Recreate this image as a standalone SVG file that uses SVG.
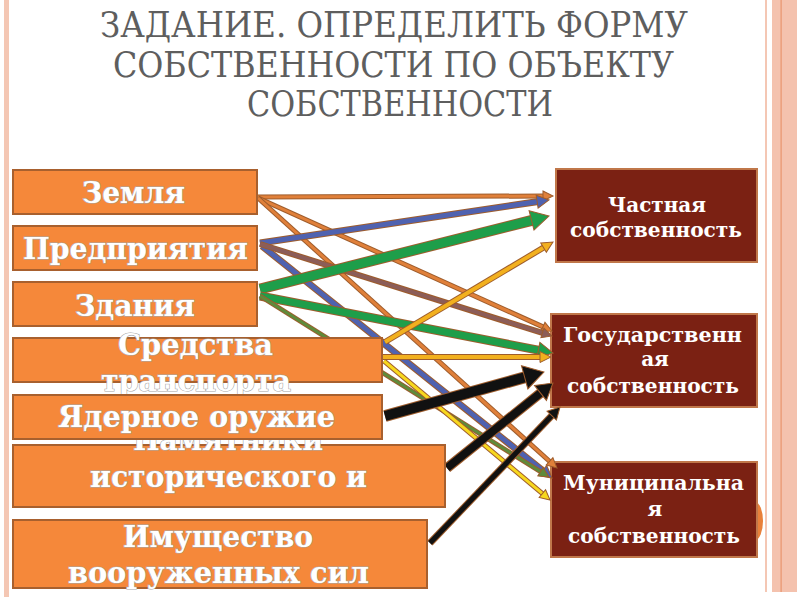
<svg xmlns="http://www.w3.org/2000/svg" width="800" height="600" viewBox="0 0 800 600">
<style>
.title{font-family:"DejaVu Serif Condensed","DejaVu Serif","Liberation Serif",serif;font-stretch:condensed;font-size:36px;fill:#5e5e5e;text-anchor:middle}
.lbox{fill:#F5883A;stroke:#A8602E;stroke-width:2}
.rbox{fill:#7B2113;stroke:#C0774A;stroke-width:2}
.lt{font-family:"DejaVu Serif",serif;font-weight:bold;font-size:29px;fill:#fff;text-anchor:middle;paint-order:stroke;stroke:#a8a8a8;stroke-width:1.2}
.rt{font-family:"DejaVu Serif",serif;font-weight:bold;font-size:20px;fill:#fff;text-anchor:middle}
.o{fill:none;stroke:#9E5C2C}
.c{fill:none}
</style>
<defs>
<marker id="h-orange" markerUnits="userSpaceOnUse" markerWidth="10" markerHeight="10" refX="2.5" refY="5" orient="auto" overflow="visible"><path d="M0,0 L10,5 L0,10 z" fill="#E0803A" stroke="#9E5C2C" stroke-width="1"/></marker>
<marker id="h-blue" markerUnits="userSpaceOnUse" markerWidth="12" markerHeight="13" refX="3" refY="6.5" orient="auto" overflow="visible"><path d="M0,0 L12,6.5 L0,13 z" fill="#4F62B0" stroke="#9E5C2C" stroke-width="1"/></marker>
<marker id="h-mauve" markerUnits="userSpaceOnUse" markerWidth="10" markerHeight="10" refX="2.5" refY="5" orient="auto" overflow="visible"><path d="M0,0 L10,5 L0,10 z" fill="#8C5D58" stroke="#9E5C2C" stroke-width="1"/></marker>
<marker id="h-green-l" markerUnits="userSpaceOnUse" markerWidth="18" markerHeight="20" refX="4.5" refY="10" orient="auto" overflow="visible"><path d="M0,0 L18,10 L0,20 z" fill="#1E9E4A" stroke="#9E5C2C" stroke-width="1"/></marker>
<marker id="h-green-m" markerUnits="userSpaceOnUse" markerWidth="15" markerHeight="16" refX="3.75" refY="8" orient="auto" overflow="visible"><path d="M0,0 L15,8 L0,16 z" fill="#1E9E4A" stroke="#9E5C2C" stroke-width="1"/></marker>
<marker id="h-olive" markerUnits="userSpaceOnUse" markerWidth="10" markerHeight="10" refX="2.5" refY="5" orient="auto" overflow="visible"><path d="M0,0 L10,5 L0,10 z" fill="#5F8B3B" stroke="#9E5C2C" stroke-width="1"/></marker>
<marker id="h-gold" markerUnits="userSpaceOnUse" markerWidth="11" markerHeight="11" refX="2.75" refY="5.5" orient="auto" overflow="visible"><path d="M0,0 L11,5.5 L0,11 z" fill="#F2B01E" stroke="#9E5C2C" stroke-width="1"/></marker>
<marker id="h-yellow" markerUnits="userSpaceOnUse" markerWidth="10" markerHeight="10" refX="2.5" refY="5" orient="auto" overflow="visible"><path d="M0,0 L10,5 L0,10 z" fill="#F7D81E" stroke="#9E5C2C" stroke-width="1"/></marker>
<marker id="h-black-l" markerUnits="userSpaceOnUse" markerWidth="20" markerHeight="24" refX="5" refY="12" orient="auto" overflow="visible"><path d="M0,0 L20,12 L0,24 z" fill="#111" stroke="#9E5C2C" stroke-width="1"/></marker>
<marker id="h-black-m" markerUnits="userSpaceOnUse" markerWidth="16" markerHeight="19" refX="4" refY="9.5" orient="auto" overflow="visible"><path d="M0,0 L16,9.5 L0,19 z" fill="#111" stroke="#9E5C2C" stroke-width="1"/></marker>
<marker id="h-black-s" markerUnits="userSpaceOnUse" markerWidth="12" markerHeight="13" refX="3" refY="6.5" orient="auto" overflow="visible"><path d="M0,0 L12,6.5 L0,13 z" fill="#111" stroke="#9E5C2C" stroke-width="1"/></marker>
</defs>
<rect x="0" y="0" width="800" height="600" fill="#fff"/>
<g id="frame">
<rect x="4" y="0" width="5" height="597" fill="#F4C7B4"/>
<rect x="765" y="0" width="2" height="592" fill="#F4C7B4"/>
<rect x="772" y="0" width="25" height="592" fill="#F4C2AE"/>
<rect x="780.5" y="0" width="1.2" height="592" fill="#E8956E"/>
</g>
<g id="title">
<text class="title" x="394" y="37" textLength="588" lengthAdjust="spacingAndGlyphs">ЗАДАНИЕ. ОПРЕДЕЛИТЬ ФОРМУ</text>
<text class="title" x="393.5" y="77" textLength="561" lengthAdjust="spacingAndGlyphs">СОБСТВЕННОСТИ ПО ОБЪЕКТУ</text>
<text class="title" x="400" y="116" textLength="306" lengthAdjust="spacingAndGlyphs">СОБСТВЕННОСТИ</text>
</g>
<g id="node-private">
<rect class="rbox" x="556" y="169" width="201" height="93"/>
<text class="rt" x="657" y="212" textLength="98" lengthAdjust="spacingAndGlyphs">Частная</text>
<text class="rt" x="656" y="237" textLength="172" lengthAdjust="spacingAndGlyphs">собственность</text>
</g>
<g id="node-state">
<rect class="rbox" x="551" y="314" width="206" height="93"/>
<text class="rt" x="652.5" y="342" textLength="179" lengthAdjust="spacingAndGlyphs">Государственн</text>
<text class="rt" x="655" y="366">ая</text>
<text class="rt" x="653" y="393" textLength="172" lengthAdjust="spacingAndGlyphs">собственность</text>
</g>
<g id="node-municipal">
<ellipse cx="755" cy="521" rx="8" ry="19" fill="#E8803A"/>
<rect class="rbox" x="551" y="462" width="206" height="95"/>
<text class="rt" x="653.5" y="490" textLength="181" lengthAdjust="spacingAndGlyphs">Муниципальна</text>
<text class="rt" x="655" y="516">я</text>
<text class="rt" x="654" y="543" textLength="172" lengthAdjust="spacingAndGlyphs">собственность</text>
</g>
<g id="connectors">
<path class="o" d="M258,197 L545.5,196" stroke-width="5"/><path class="c" d="M258,197 L545.5,196" stroke="#E0803A" stroke-width="3" marker-end="url(#h-orange)"/>
<path class="o" d="M258,198 L545.2,327.9" stroke-width="5"/><path class="c" d="M258,198 L545.2,327.9" stroke="#E0803A" stroke-width="3" marker-end="url(#h-orange)"/>
<path class="o" d="M258,198 L551.4,463" stroke-width="5"/><path class="c" d="M258,198 L551.4,463" stroke="#E0803A" stroke-width="3" marker-end="url(#h-orange)"/>
<path class="o" d="M260,243 L540.1,201.3" stroke-width="7"/><path class="c" d="M260,243 L540.1,201.3" stroke="#4F62B0" stroke-width="5" marker-end="url(#h-blue)"/>
<path class="o" d="M262,246 L545,472.4" stroke-width="7"/><path class="c" d="M262,246 L545,472.4" stroke="#4F62B0" stroke-width="5" marker-end="url(#h-blue)"/>
<path class="o" d="M260,244 L544.8,333.7" stroke-width="6"/><path class="c" d="M260,244 L544.8,333.7" stroke="#8C5D58" stroke-width="4" marker-end="url(#h-mauve)"/>
<path class="o" d="M260,289 L535.9,219.3" stroke-width="11"/><path class="c" d="M260,289 L535.9,219.3" stroke="#1E9E4A" stroke-width="9" marker-end="url(#h-green-l)"/>
<path class="o" d="M260,296 L542,350.9" stroke-width="9"/><path class="c" d="M260,296 L542,350.9" stroke="#1E9E4A" stroke-width="7" marker-end="url(#h-green-m)"/>
<path class="o" d="M260,296 L542.6,473" stroke-width="5"/><path class="c" d="M260,296 L542.6,473" stroke="#5F8B3B" stroke-width="3" marker-end="url(#h-olive)"/>
<path class="o" d="M385,342 L545.9,246.2" stroke-width="6"/><path class="c" d="M385,342 L545.9,246.2" stroke="#F2B01E" stroke-width="4" marker-end="url(#h-gold)"/>
<path class="o" d="M383,357 L542.75,357" stroke-width="6"/><path class="c" d="M383,357 L542.75,357" stroke="#F2B01E" stroke-width="4" marker-end="url(#h-gold)"/>
<path class="o" d="M384,361 L544.3,495.2" stroke-width="5"/><path class="c" d="M384,361 L544.3,495.2" stroke="#F7D81E" stroke-width="3" marker-end="url(#h-yellow)"/>
<path class="o" d="M385,416 L529.5,376" stroke-width="12"/><path class="c" d="M385,416 L529.5,376" stroke="#111" stroke-width="10" marker-end="url(#h-black-l)"/>
<path class="o" d="M447,468 L543.6,390.5" stroke-width="10"/><path class="c" d="M447,468 L543.6,390.5" stroke="#111" stroke-width="8" marker-end="url(#h-black-m)"/>
<path class="o" d="M430,543 L553.8,413.5" stroke-width="7"/><path class="c" d="M430,543 L553.8,413.5" stroke="#111" stroke-width="5" marker-end="url(#h-black-s)"/>
</g>
<g id="node-land">
<rect class="lbox" x="13" y="170" width="244" height="44"/>
<text class="lt" x="133.5" y="203" textLength="103" lengthAdjust="spacingAndGlyphs">Земля</text>
</g>
<g id="node-enterprises">
<rect class="lbox" x="13" y="226" width="244" height="44"/>
<text class="lt" x="135.5" y="259" textLength="225" lengthAdjust="spacingAndGlyphs">Предприятия</text>
</g>
<g id="node-buildings">
<rect class="lbox" x="13" y="282" width="244" height="44"/>
<text class="lt" x="135" y="316" textLength="120" lengthAdjust="spacingAndGlyphs">Здания</text>
</g>
<g id="node-transport">
<rect class="lbox" x="13" y="338" width="369" height="44"/>
<text class="lt" x="195.5" y="355" textLength="155" lengthAdjust="spacingAndGlyphs">Средства</text>
<text class="lt" x="196" y="391" textLength="190" lengthAdjust="spacingAndGlyphs">транспорта</text>
</g>
<g id="node-monuments">
<rect class="lbox" x="13" y="445" width="432" height="62"/>
<text class="lt" x="228" y="450" textLength="190" lengthAdjust="spacingAndGlyphs">Памятники</text>
<text class="lt" x="228.5" y="487" textLength="277" lengthAdjust="spacingAndGlyphs">исторического и</text>
</g>
<g id="node-nuclear">
<rect class="lbox" x="13" y="395" width="369" height="44"/>
<text class="lt" x="196.5" y="427" textLength="277" lengthAdjust="spacingAndGlyphs">Ядерное оружие</text>
</g>
<g id="node-military">
<rect class="lbox" x="13" y="520" width="414" height="68"/>
<text class="lt" x="218" y="547" textLength="190" lengthAdjust="spacingAndGlyphs">Имущество</text>
<text class="lt" x="218.5" y="583" textLength="301" lengthAdjust="spacingAndGlyphs">вооруженных сил</text>
</g>
</svg>
